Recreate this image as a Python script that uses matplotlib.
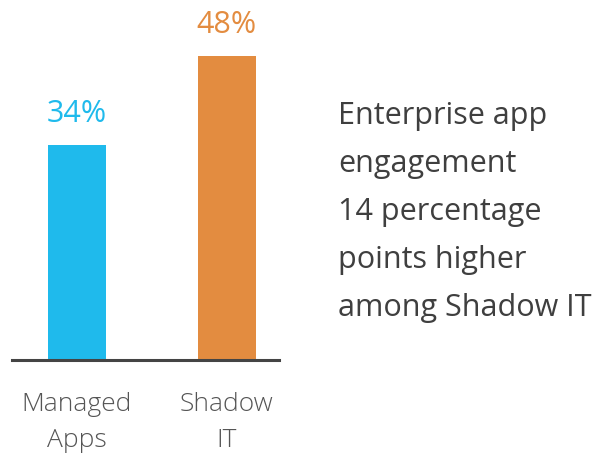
import matplotlib
matplotlib.use('Agg')
import matplotlib.pyplot as plt

categories = ['Managed\nApps', 'Shadow\nIT']
values = [34, 48]
colors = ['#1fbaec', '#e38c40']
note = 'Enterprise app\nengagement\n14 percentage\npoints higher\namong Shadow IT'

plt.rcParams['font.family'] = ['Open Sans', 'DejaVu Sans']

fig = plt.figure(figsize=(6.13, 4.54), dpi=100)
ax = fig.add_axes([12/613, 94/454, 267/613, 360/454])

x = range(len(values))
ax.bar(x, values, width=0.388, color=colors, zorder=2)
ax.set_xlim(-0.435, 1.351)
ax.set_ylim(0, 56.8)

for i, v in enumerate(values):
    ax.annotate(f'{v}%', (i, v), xytext=(0, 11), textcoords='offset points',
                ha='center', va='bottom', fontsize=22, color=colors[i])

for s in ['top', 'right', 'left']:
    ax.spines[s].set_visible(False)
ax.spines['bottom'].set_color('#444444')
ax.spines['bottom'].set_linewidth(2.2)
ax.set_yticks([])
ax.set_xticks(list(x))
ax.set_xticklabels(categories, fontsize=19, color='#555555',
                   fontweight='light', linespacing=1.6)
ax.tick_params(axis='x', length=0, pad=23)

fig.text(338/613, 1 - 101/454, note, ha='left', va='top', fontsize=22,
         color='#3f3f3f', linespacing=1.78)

fig.savefig('out.png', dpi=100)
